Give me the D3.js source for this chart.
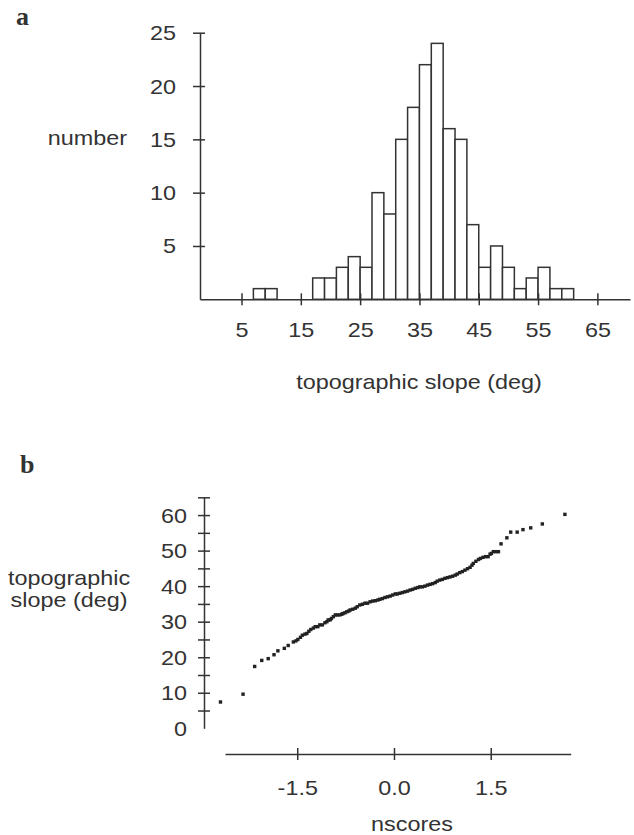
<!DOCTYPE html>
<html lang="en">
<head>
<meta charset="UTF-8">
<title>topographic slope</title>
<script src="https://d3js.org/d3.v7.min.js"></script>
<style>
  body { margin: 0; background: #fff; }
  svg text { font-family: "Liberation Sans", Arial, sans-serif; fill: #333; }
</style>
</head>
<body>
<svg width="634" height="835"></svg>
<script>
// panel a : histogram, 2 deg bins (lower edge) and counts
var binStart = [7, 9, 17, 19, 21, 23, 25, 27, 29, 31, 33, 35, 37, 39, 41, 43, 45, 47, 49, 51, 53, 55, 57, 59];
var binCount = [1, 1, 2, 2, 3, 4, 3, 10, 8, 15, 18, 22, 24, 16, 15, 7, 3, 5, 3, 1, 2, 3, 1, 1];
var binWidth = 2;
var histXTicks = [5, 15, 25, 35, 45, 55, 65];
var histYTicks = [0, 5, 10, 15, 20, 25];

// panel b : normal scores against slope
var nscores = [-2.69, -2.34, -2.16, -2.05, -1.95, -1.86, -1.80, -1.70, -1.64,
  -1.56, -1.52, -1.49, -1.45, -1.42, -1.38, -1.35, -1.32, -1.29, -1.25, -1.22, -1.18, -1.15, -1.11,
  -1.07, -1.04, -1.02, -0.99, -0.97, -0.94, -0.91, -0.88, -0.84, -0.81, -0.79, -0.76, -0.73, -0.70,
  -0.68, -0.64, -0.60, -0.57, -0.53, -0.49, -0.45, -0.41, -0.37, -0.33, -0.29, -0.25, -0.22, -0.18,
  -0.14, -0.10, -0.06, -0.02, 0.02, 0.05, 0.09, 0.13, 0.17, 0.21, 0.25, 0.29, 0.33, 0.37, 0.40,
  0.44, 0.48, 0.52, 0.56, 0.60, 0.64, 0.67, 0.71, 0.75, 0.79, 0.83, 0.87, 0.91, 0.95, 0.98, 1.02,
  1.06, 1.10, 1.14, 1.18, 1.21, 1.23, 1.27, 1.31, 1.34, 1.38, 1.42, 1.46, 1.49, 1.51, 1.54, 1.58, 1.62,
  1.66, 1.75, 1.81, 1.91, 2.00, 2.12, 2.30, 2.65];
var slopes = [7.4, 9.6, 17.4, 19.1, 19.6, 20.7, 21.8, 22.5, 23.3,
  24.3, 24.6, 25.0, 25.6, 26.2, 26.5, 26.7, 27.3, 27.8, 28.2, 28.6, 28.6, 29.1, 29.1,
  29.7, 30.0, 30.5, 30.5, 30.9, 31.4, 31.9, 31.9, 31.9, 32.1, 32.3, 32.5, 32.8, 33.0,
  33.3, 33.5, 33.8, 34.2, 34.7, 34.9, 35.2, 35.2, 35.6, 35.8, 35.9, 36.1, 36.3, 36.5,
  36.8, 37.0, 37.2, 37.5, 37.8, 37.8, 38.0, 38.2, 38.4, 38.6, 38.9, 39.1, 39.4, 39.6, 39.8,
  39.8, 40.0, 40.3, 40.5, 40.7, 41.0, 41.4, 41.7, 41.9, 42.2, 42.4, 42.6, 42.8, 43.1, 43.4, 43.8,
  44.1, 44.5, 44.9, 45.3, 45.9, 46.4, 47.0, 47.5, 47.8, 48.1, 48.3, 48.3, 49.0, 49.2, 49.7, 49.7, 49.7,
  51.9, 53.6, 55.2, 55.2, 55.9, 56.4, 57.5, 60.2];
var qqXTicks = [-1.5, 0, 1.5];
var qqYTicks = [0, 5, 10, 15, 20, 25, 30, 35, 40, 45, 50, 55, 60, 65];

var ink = '#333';
var fontSize = 20;
var sx = 1.17; // scanned lettering is a bit wide

var svg = d3.select('svg');

function label(x, y, str, anchor) {
    return svg.append('text')
        .attr('transform', 'translate(' + x + ',' + y + ') scale(' + sx + ',1)')
        .attr('text-anchor', anchor || 'middle')
        .style('font-size', fontSize + 'px')
        .text(str);
}

// style an axis: crossing ticks, scaled labels
function styleAxis(g, vertical, tIn, tOut, off) {
    g.select('.domain').attr('stroke', ink).attr('stroke-width', 1.5);
    g.selectAll('.tick line').attr('stroke', ink).attr('stroke-width', 1.5);
    if (vertical) {
        g.selectAll('.tick line').attr('x1', -tOut).attr('x2', tIn);
        g.selectAll('.tick text')
            .attr('x', 0).attr('dy', null).attr('y', 7)
            .attr('transform', 'translate(' + (-off) + ',0) scale(' + sx + ',1)');
    } else {
        g.selectAll('.tick line').attr('y1', -tIn).attr('y2', tOut);
        g.selectAll('.tick text')
            .attr('y', 0).attr('dy', null)
            .attr('transform', 'translate(0,' + off + ') scale(' + sx + ',1)');
    }
    g.selectAll('.tick text').style('font-size', fontSize + 'px').attr('fill', ink);
}

// ---------- panel a ----------
var xA = d3.scaleLinear().domain([-2, 70.5]).range([200, 630]);
var yA = d3.scaleLinear().domain([0, 25]).range([299.3, 32.7]);

svg.append('g').selectAll('rect')
    .data(binStart).enter().append('rect')
    .attr('x', function (d) { return xA(d); })
    .attr('y', function (d, i) { return yA(binCount[i]); })
    .attr('width', function (d) { return xA(d + binWidth) - xA(d); })
    .attr('height', function (d, i) { return yA(0) - yA(binCount[i]); })
    .attr('fill', '#fff')
    .attr('stroke', ink)
    .attr('stroke-width', 1.5);

var axA = svg.append('g').attr('transform', 'translate(0,' + yA(0) + ')')
    .call(d3.axisBottom(xA).tickValues(histXTicks).tickSizeOuter(0));
styleAxis(axA, false, 6, 6, 38);

var ayA = svg.append('g').attr('transform', 'translate(' + xA(-2) + ',0)')
    .call(d3.axisLeft(yA).tickValues(histYTicks).tickSizeOuter(0)
        .tickFormat(function (d) { return d === 0 ? '' : d; }));
styleAxis(ayA, true, 5, 7, 24);
ayA.selectAll('.tick text').attr('text-anchor', 'end');
ayA.selectAll('.tick line').filter(function (d) { return d === 0; }).remove();

label(127, 145, 'number', 'end');
label(419, 389, 'topographic slope (deg)');

svg.append('text').attr('x', 16).attr('y', 25)
    .style('font-family', '"Liberation Serif", "DejaVu Serif", serif')
    .style('font-weight', 'bold').style('font-size', '26px').attr('fill', ink)
    .text('a');

// ---------- panel b ----------
var xB = d3.scaleLinear().domain([-2.62, 2.74]).range([225, 570.7]);
var yB = d3.scaleLinear().domain([0, 65]).range([728.3, 497.3]);

var ayB = svg.append('g').attr('transform', 'translate(204,0)')
    .call(d3.axisLeft(yB).tickValues(qqYTicks).tickSizeOuter(0)
        .tickFormat(function (d) { return (d % 10 === 0 && d <= 60) ? d : ''; }));
styleAxis(ayB, true, 6, 6, 17);
ayB.selectAll('.tick text').attr('text-anchor', 'end');
ayB.selectAll('.tick line').filter(function (d) { return d === 0; }).remove();

var axB = svg.append('g').attr('transform', 'translate(0,754)')
    .call(d3.axisBottom(xB).tickValues(qqXTicks).tickSizeOuter(0)
        .tickFormat(function (d) { return d.toFixed(1); }));
styleAxis(axB, false, 6, 6, 41);

svg.append('g').selectAll('rect')
    .data(nscores).enter().append('rect')
    .attr('x', function (d) { return xB(d) - 1.7; })
    .attr('y', function (d, i) { return yB(slopes[i]) - 1.7; })
    .attr('width', 3.4)
    .attr('height', 3.4)
    .attr('fill', '#222');

label(69, 585, 'topographic');
label(69, 607, 'slope (deg)');
label(412, 831, 'nscores');

svg.append('text').attr('x', 20).attr('y', 473)
    .style('font-family', '"Liberation Serif", "DejaVu Serif", serif')
    .style('font-weight', 'bold').style('font-size', '26px').attr('fill', ink)
    .text('b');
</script>
</body>
</html>
